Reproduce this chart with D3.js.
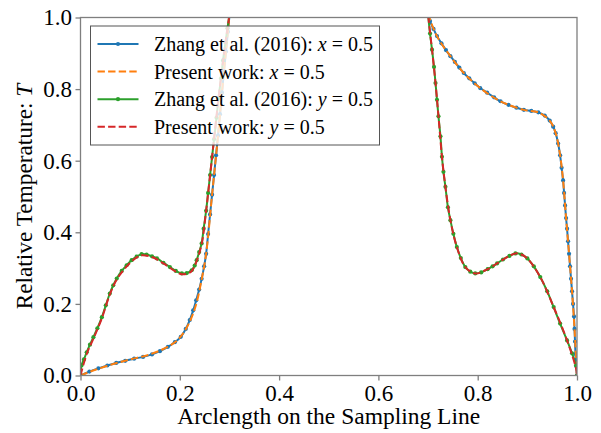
<!DOCTYPE html>
<meta charset="utf-8">
<script src="https://cdn.jsdelivr.net/npm/d3@7"></script>
<style>
body { margin: 0; background: white; }
.axis path, .axis line { stroke: #7f7f7f; stroke-width: 1.3px; }
</style>
<body>
<div id="p1"></div>
<script>
// Zhang et al. (2016), x = 0.5
var zhangXs = [0, 0.018, 0.036, 0.054, 0.072, 0.090, 0.108, 0.126, 0.144, 0.160, 0.176, 0.190, 0.202, 0.212, 0.220, 0.227, 0.233, 0.239, 0.244, 0.249, 0.253, 0.257, 0.261, 0.265, 0.269, 0.273, 0.277, 0.281, 0.285, 0.289, 0.293, 0.297, 0.301, 0.306,
  0.694, 0.699, 0.704, 0.711, 0.718, 0.727, 0.736, 0.745, 0.754, 0.763, 0.772, 0.783, 0.794, 0.805, 0.819, 0.833, 0.846, 0.862, 0.878, 0.893, 0.908, 0.922, 0.935, 0.945, 0.952, 0.957, 0.962, 0.966, 0.969, 0.972, 0.974, 0.976, 0.978, 0.980, 0.982, 0.984, 0.986, 0.988, 0.990, 0.992, 0.994, 0.995, 0.996, 0.997, 0.999, 1.0]
var zhangXT = [0, 0.011, 0.020, 0.028, 0.035, 0.041, 0.047, 0.052, 0.059, 0.068, 0.080, 0.093, 0.108, 0.130, 0.155, 0.182, 0.210, 0.240, 0.270, 0.305, 0.340, 0.395, 0.450, 0.505, 0.560, 0.615, 0.670, 0.730, 0.790, 0.850, 0.905, 0.960, 1.020, 1.100,
  1.100, 1.020, 0.990, 0.968, 0.948, 0.928, 0.909, 0.892, 0.876, 0.860, 0.845, 0.830, 0.816, 0.803, 0.790, 0.777, 0.766, 0.756, 0.748, 0.742, 0.739, 0.735, 0.726, 0.712, 0.695, 0.677, 0.648, 0.615, 0.580, 0.545, 0.510, 0.475, 0.440, 0.410, 0.375, 0.340, 0.305, 0.270, 0.235, 0.200, 0.165, 0.130, 0.095, 0.060, 0.025, 0]

// Present work, x = 0.5
var presentXs = [0, 0.030, 0.066, 0.100, 0.133, 0.167, 0.194, 0.214, 0.231, 0.244, 0.253, 0.265, 0.277, 0.289, 0.301, 0.306,
  0.694, 0.699, 0.718, 0.745, 0.772, 0.805, 0.846, 0.893, 0.922, 0.945, 0.957, 0.966, 0.972, 0.978, 0.984, 0.990, 0.995, 0.999, 1.0]
var presentXT = [0, 0.016, 0.032, 0.045, 0.056, 0.074, 0.097, 0.134, 0.190, 0.268, 0.340, 0.505, 0.670, 0.850, 1.020, 1.100,
  1.100, 1.020, 0.948, 0.892, 0.845, 0.803, 0.766, 0.742, 0.735, 0.712, 0.677, 0.615, 0.545, 0.440, 0.340, 0.235, 0.130, 0.025, 0]

// Zhang et al. (2016), y = 0.5
var zhangYs = [0, 0.002, 0.007, 0.0125, 0.019, 0.026, 0.034, 0.043, 0.051, 0.059, 0.066, 0.073, 0.083, 0.093, 0.103, 0.113, 0.123, 0.133, 0.144, 0.154, 0.167, 0.180, 0.192, 0.204, 0.214, 0.224, 0.230, 0.234, 0.239, 0.244, 0.248, 0.253, 0.257, 0.261, 0.265, 0.269, 0.274, 0.278, 0.283, 0.287, 0.292, 0.296, 0.300, 0.305,
  0.695, 0.700, 0.704, 0.708, 0.712, 0.715, 0.718, 0.721, 0.725, 0.728, 0.731, 0.735, 0.740, 0.745, 0.751, 0.758, 0.766, 0.775, 0.785, 0.795, 0.807, 0.820, 0.830, 0.839, 0.851, 0.864, 0.876, 0.888, 0.900, 0.913, 0.926, 0.940, 0.953, 0.966, 0.980, 0.990, 0.998, 1.0]
var zhangYT = [0, 0.028, 0.045, 0.065, 0.086, 0.107, 0.132, 0.163, 0.196, 0.229, 0.252, 0.271, 0.292, 0.308, 0.322, 0.332, 0.339, 0.338, 0.333, 0.327, 0.315, 0.303, 0.292, 0.285, 0.286, 0.294, 0.307, 0.322, 0.345, 0.369, 0.410, 0.460, 0.510, 0.560, 0.610, 0.660, 0.720, 0.775, 0.830, 0.880, 0.930, 0.970, 1.010, 1.100,
  1.100, 1.010, 0.955, 0.910, 0.862, 0.817, 0.770, 0.724, 0.668, 0.611, 0.569, 0.527, 0.470, 0.434, 0.396, 0.359, 0.328, 0.303, 0.290, 0.285, 0.288, 0.297, 0.305, 0.313, 0.324, 0.334, 0.341, 0.338, 0.327, 0.305, 0.275, 0.235, 0.191, 0.145, 0.098, 0.062, 0.028, 0]

// Present work, y = 0.5
var presentYs = [0, 0.0125, 0.026, 0.043, 0.059, 0.073, 0.093, 0.113, 0.123, 0.144, 0.167, 0.192, 0.204, 0.214, 0.224, 0.234, 0.244, 0.253, 0.265, 0.278, 0.292, 0.300, 0.305,
  0.695, 0.700, 0.708, 0.715, 0.721, 0.728, 0.735, 0.745, 0.758, 0.775, 0.795, 0.820, 0.839, 0.864, 0.876, 0.888, 0.900, 0.926, 0.953, 0.980, 0.998, 1.0]
var presentYT = [0, 0.060, 0.103, 0.160, 0.226, 0.268, 0.305, 0.330, 0.336, 0.331, 0.313, 0.290, 0.283, 0.284, 0.292, 0.320, 0.367, 0.460, 0.610, 0.775, 0.930, 1.010, 1.100,
  1.100, 1.010, 0.910, 0.817, 0.724, 0.611, 0.527, 0.434, 0.359, 0.303, 0.285, 0.297, 0.313, 0.334, 0.341, 0.338, 0.327, 0.275, 0.191, 0.098, 0.020, 0]

var xTicks = [0, 0.2, 0.4, 0.6, 0.8, 1.0]
var yTicks = [0, 0.2, 0.4, 0.6, 0.8, 1.0]

var legendNames = ["Zhang et al. (2016): ", "Present work: ", "Zhang et al. (2016): ", "Present work: "]
var legendVars = ["x", "x", "y", "y"]
var colors = ["#1f77b4", "#ff7f0e", "#2ca02c", "#d62728"]

var serif = "Liberation Serif"

function zip(s, t) { return s.map(function(v, i) { return [v, t[i]] }) }

var series = [
  {data: zip(zhangXs, zhangXT), color: colors[0], dashed: false, markers: true},
  {data: zip(presentXs, presentXT), color: colors[1], dashed: true, markers: false},
  {data: zip(zhangYs, zhangYT), color: colors[2], dashed: false, markers: true},
  {data: zip(presentYs, presentYT), color: colors[3], dashed: true, markers: false}
]

var W = 601, H = 433
var margin = {top: 17.5, right: 24, bottom: 57.5, left: 80.5}
var width = W - margin.left - margin.right
var height = H - margin.top - margin.bottom

var svg = d3.select("#p1").append("svg")
  .attr("width", W).attr("height", H)

svg.append("defs").append("clipPath").attr("id", "clip")
  .append("rect").attr("width", width).attr("height", height)

var g = svg.append("g").attr("transform", "translate(" + margin.left + "," + margin.top + ")")

var xScale = d3.scaleLinear().domain([0, 1]).range([0, width])
var yScale = d3.scaleLinear().domain([0, 1]).range([height, 0])

var line = d3.line()
  .x(function(d) { return xScale(d[0]) })
  .y(function(d) { return yScale(d[1]) })
  .curve(d3.curveCatmullRom.alpha(0.5))

var plot = g.append("g").attr("clip-path", "url(#clip)")

series.forEach(function(s) {
  plot.append("path")
    .datum(s.data)
    .attr("d", line)
    .attr("fill", "none")
    .attr("stroke", s.color)
    .attr("stroke-width", 2)
    .attr("stroke-dasharray", s.dashed ? "7.4,3.2" : null)
  if (s.markers) {
    plot.selectAll(null)
      .data(s.data)
      .enter().append("circle")
      .attr("cx", function(d) { return xScale(d[0]) })
      .attr("cy", function(d) { return yScale(d[1]) })
      .attr("r", 2.1)
      .attr("fill", s.color)
  }
})

// axes
var xAxis = d3.axisBottom(xScale).tickValues(xTicks).tickFormat(d3.format(".1f")).tickSize(5).tickPadding(3.7)
var yAxis = d3.axisLeft(yScale).tickValues(yTicks).tickFormat(d3.format(".1f")).tickSize(5).tickPadding(3.5)

g.append("g").attr("class", "axis").attr("transform", "translate(0," + height + ")").call(xAxis)
g.append("g").attr("class", "axis").call(yAxis)
g.selectAll(".axis .domain").remove()
g.selectAll(".axis").attr("font-family", serif).attr("font-size", 23)

// frame
g.append("rect")
  .attr("width", width).attr("height", height)
  .attr("fill", "none").attr("stroke", "#7f7f7f").attr("stroke-width", 1.3)

svg.append("text")
  .attr("x", margin.left + width / 2).attr("y", 424)
  .attr("text-anchor", "middle")
  .attr("font-size", 23.5)
  .text("Arclength on the Sampling Line")

var yl = svg.append("text")
  .attr("transform", "translate(32," + (margin.top + height / 2) + ") rotate(-90)")
  .attr("text-anchor", "middle")
  .attr("font-size", 23.3)
yl.append("tspan").text("Relative Temperature: ")
yl.append("tspan").attr("font-style", "italic").text("T")

// legend
var legend = svg.append("g").attr("transform", "translate(90.5,26)")
legend.append("rect")
  .attr("width", 289).attr("height", 119)
  .attr("fill", "white").attr("fill-opacity", 0.8)
  .attr("stroke", "#555").attr("stroke-width", 1)

var rows = legend.selectAll("g.row")
  .data(series)
  .enter().append("g")
  .attr("class", "row")
  .attr("transform", function(d, i) { return "translate(0," + (18 + i * 27.6) + ")" })

rows.append("line")
  .attr("x1", 7).attr("x2", 48).attr("y1", 0).attr("y2", 0)
  .attr("stroke", function(d) { return d.color })
  .attr("stroke-width", 2)
  .attr("stroke-dasharray", function(d) { return d.dashed ? "7.4,3.2" : null })

rows.filter(function(d) { return d.markers }).append("circle")
  .attr("cx", 27.5).attr("cy", 0).attr("r", 2.1)
  .attr("fill", function(d) { return d.color })

var lt = rows.append("text")
  .attr("x", 63.5).attr("y", 7)
  .attr("font-size", 20)
lt.append("tspan").text(function(d, i) { return legendNames[i] })
lt.append("tspan").attr("font-style", "italic").text(function(d, i) { return legendVars[i] })
lt.append("tspan").text(" = 0.5")

svg.selectAll("text").attr("font-family", serif).attr("fill", "black")
</script>
</body>
